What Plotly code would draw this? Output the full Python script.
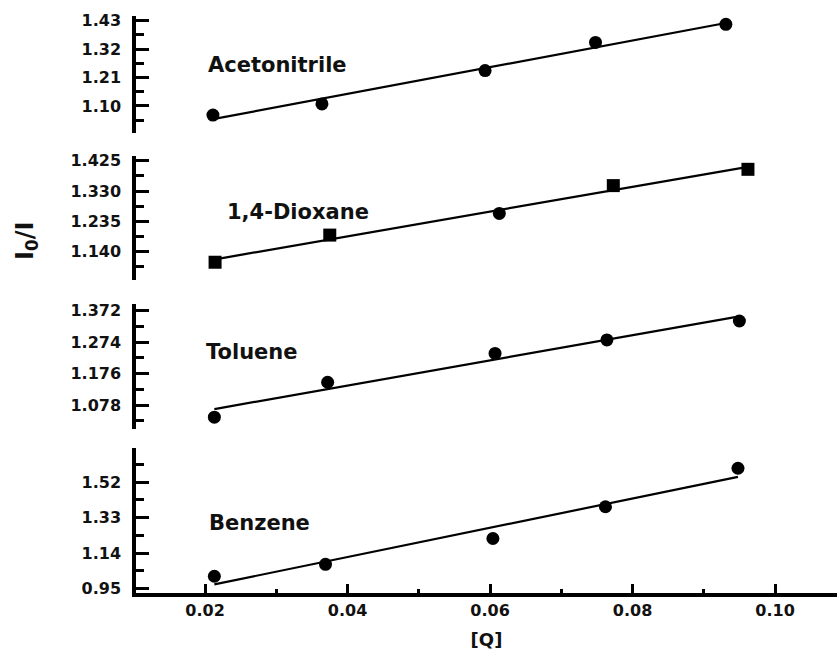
import numpy as np
import plotly.graph_objects as go

# ---- data ----
solvents = ["Acetonitrile", "1,4-Dioxane", "Toluene", "Benzene"]
x_acn = [0.0211, 0.0364, 0.0593, 0.0748, 0.0931]
y_acn = [1.065, 1.108, 1.237, 1.346, 1.416]
x_dio = [0.0214, 0.0375, 0.0613, 0.0773, 0.0962]
y_dio = [1.107, 1.192, 1.260, 1.347, 1.398]
x_tol = [0.0213, 0.0372, 0.0607, 0.0764, 0.0950]
y_tol = [1.040, 1.149, 1.239, 1.281, 1.340]
x_ben = [0.0213, 0.0369, 0.0604, 0.0762, 0.0948]
y_ben = [1.016, 1.080, 1.218, 1.388, 1.594]

yticks_acn = [1.10, 1.21, 1.32, 1.43]
yticks_dio = [1.140, 1.235, 1.330, 1.425]
yticks_tol = [1.078, 1.176, 1.274, 1.372]
yticks_ben = [0.95, 1.14, 1.33, 1.52]
yticklabels_acn = ["1.10", "1.21", "1.32", "1.43"]
yticklabels_dio = ["1.140", "1.235", "1.330", "1.425"]
yticklabels_tol = ["1.078", "1.176", "1.274", "1.372"]
yticklabels_ben = ["0.95", "1.14", "1.33", "1.52"]
xticks = [0.02, 0.04, 0.06, 0.08, 0.10]
xticklabels = ["0.02", "0.04", "0.06", "0.08", "0.10"]

panels = [
    dict(name=solvents[0], x=x_acn, y=y_acn, ticks=yticks_acn, labels=yticklabels_acn,
         rng=[0.9955, 1.448], dom=[0.7972, 1.0], sym="circle",
         lab=(0.0201, 1.2586)),
    dict(name=solvents[1], x=x_dio, y=y_dio, ticks=yticks_dio, labels=yticklabels_dio,
         rng=[1.0514, 1.4398], dom=[0.5425, 0.7574],
         sym=["square", "square", "circle", "square", "square"],
         lab=(0.0228, 1.264)),
    dict(name=solvents[2], x=x_tol, y=y_tol, ticks=yticks_tol, labels=yticklabels_tol,
         rng=[1.0032, 1.393], dom=[0.2842, 0.5009], sym="circle",
         lab=(0.0199, 1.244)),
    dict(name=solvents[3], x=x_ben, y=y_ben, ticks=yticks_ben, labels=yticklabels_ben,
         rng=[0.9264, 1.7024], dom=[0.0, 0.2513], sym="circle",
         lab=(0.0202, 1.300)),
]

FONT = "DejaVu Sans"
fig = go.Figure()
annotations = []

for i, p in enumerate(panels):
    yname = "y" if i == 0 else f"y{i+1}"
    lname = "yaxis" if i == 0 else f"yaxis{i+1}"
    xs = np.array(p["x"])
    ys = np.array(p["y"])
    k, b = np.polyfit(xs, ys, 1)
    xl = np.array([xs.min(), xs.max()])
    fig.add_trace(go.Scatter(x=xl, y=k * xl + b, mode="lines",
                             line=dict(color="black", width=2.2),
                             xaxis="x", yaxis=yname, showlegend=False,
                             hoverinfo="skip"))
    fig.add_trace(go.Scatter(x=xs, y=ys, mode="markers",
                             marker=dict(symbol=p["sym"], size=13, color="black"),
                             xaxis="x", yaxis=yname, showlegend=False,
                             name=p["name"]))
    step = p["ticks"][1] - p["ticks"][0]
    minor_vals = [p["ticks"][0] - step / 2] + \
        [(p["ticks"][j] + p["ticks"][j + 1]) / 2 for j in range(len(p["ticks"]) - 1)] + \
        [p["ticks"][-1] + step / 2]
    fig.layout[lname] = dict(
        domain=p["dom"], range=p["rng"], anchor="x",
        tickmode="array", tickvals=p["ticks"], ticktext=p["labels"],
        ticks="inside", ticklen=13, tickwidth=3, tickcolor="black",
        minor=dict(tickmode="array", tickvals=minor_vals, ticks="inside",
                   ticklen=8, tickwidth=3, tickcolor="black"),
        showline=True, linewidth=3.5, linecolor="black",
        showgrid=False, zeroline=False,
        tickfont=dict(family=FONT, size=16, color="#111", weight="bold"),
        ticklabelstandoff=8,
    )
    annotations.append(dict(x=p["lab"][0], y=p["lab"][1], xref="x", yref=yname,
                            text=p["name"], showarrow=False, xanchor="left",
                            yanchor="middle",
                            font=dict(family=FONT, size=21, color="#111",
                                      weight="bold")))

fig.layout["xaxis"] = dict(
    domain=[0, 1], range=[0.0103, 0.1087], anchor="y4",
    tickmode="array", tickvals=xticks, ticktext=xticklabels,
    ticks="inside", ticklen=9, tickwidth=3, tickcolor="black",
    minor=dict(tickmode="array", tickvals=[0.01, 0.03, 0.05, 0.07, 0.09],
               ticks="inside", ticklen=4, tickwidth=3, tickcolor="black"),
    showline=True, linewidth=3.5, linecolor="black",
    showgrid=False, zeroline=False,
    tickfont=dict(family=FONT, size=16, color="#111", weight="bold"),
    ticklabelstandoff=0,
    title=dict(text="[Q]", font=dict(family=FONT, size=18, color="#111",
                                     weight="bold"), standoff=16),
)

annotations.append(dict(x=-0.157, y=0.61, xref="paper", yref="paper",
                        text="I<sub>0</sub>/I", showarrow=False, textangle=-90,
                        font=dict(family=FONT, size=24, color="#111",
                                  weight="bold"),
                        xanchor="center", yanchor="middle"))

fig.update_layout(
    width=837, height=650,
    margin=dict(l=136, r=0, t=16, b=57),
    paper_bgcolor="white", plot_bgcolor="white",
    annotations=annotations,
    showlegend=False,
)

fig.write_html("out.html")
